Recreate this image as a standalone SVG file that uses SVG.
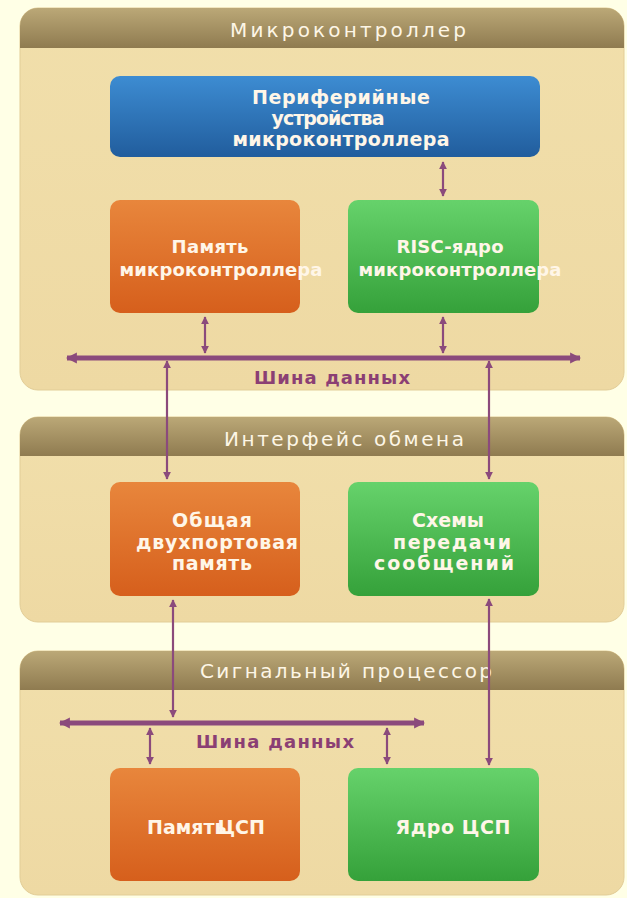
<svg xmlns="http://www.w3.org/2000/svg" width="627" height="898" viewBox="0 0 627 898">
<defs>
<linearGradient id="gHdr" x1="0" y1="0" x2="0" y2="1"><stop offset="0" stop-color="#bba877"/><stop offset="1" stop-color="#8f7b50"/></linearGradient>
<linearGradient id="gBody" x1="0" y1="0" x2="0" y2="1"><stop offset="0" stop-color="#f1dfab"/><stop offset="1" stop-color="#eed9a3"/></linearGradient>
<linearGradient id="gBlue" x1="0" y1="0" x2="0" y2="1"><stop offset="0" stop-color="#3d8cd2"/><stop offset="1" stop-color="#215d9d"/></linearGradient>
<linearGradient id="gOrange" x1="0" y1="0" x2="0" y2="1"><stop offset="0" stop-color="#e8863c"/><stop offset="1" stop-color="#d65f1c"/></linearGradient>
<linearGradient id="gGreen" x1="0" y1="0" x2="0" y2="1"><stop offset="0" stop-color="#66d26b"/><stop offset="1" stop-color="#35a13a"/></linearGradient>
<marker id="ah" viewBox="0 0 10 10" refX="9" refY="5" markerWidth="8" markerHeight="8" markerUnits="userSpaceOnUse" orient="auto-start-reverse"><path d="M0,0 L10,5 L0,10 Z" fill="#8b4a7c"/></marker>
<marker id="bh" viewBox="0 0 10 10" refX="9" refY="5" markerWidth="11" markerHeight="12" markerUnits="userSpaceOnUse" orient="auto-start-reverse"><path d="M0,0 L10,5 L0,10 Z" fill="#8b4a7c"/></marker>
<style>
.body{fill:url(#gBody);stroke:#e2cd97;stroke-width:1}
.hdr{fill:url(#gHdr)}
.htxt{font-family:"DejaVu Sans",sans-serif;font-size:20px;fill:#fdf6e6;text-anchor:middle}
.btxt{font-family:"DejaVu Sans",sans-serif;font-weight:bold;font-size:19px;fill:#fff6e8;text-anchor:middle}
.s{font-size:18px}
.bus{font-family:"DejaVu Sans",sans-serif;font-weight:bold;font-size:18px;fill:#8b3f74;text-anchor:middle}
.blue{fill:url(#gBlue)}
.orange{fill:url(#gOrange)}
.green{fill:url(#gGreen)}
.ln{stroke:#8b4a7c;stroke-width:2.2;fill:none;marker-start:url(#ah);marker-end:url(#ah)}
.bl{stroke:#8b4a7c;stroke-width:5;fill:none;marker-start:url(#bh);marker-end:url(#bh)}
</style>
</defs>
<rect width="627" height="898" fill="#ffffe6"/>

<g id="mcu">
<rect class="body" x="20" y="8" width="604" height="382" rx="18"/>
<path class="hdr" d="M20,48 V26 A18,18 0 0 1 38,8 H606 A18,18 0 0 1 624,26 V48 Z"/>
<text class="htxt" x="348" y="37" textLength="236">Микроконтроллер</text>
</g>
<g id="iface">
<rect class="body" x="20" y="417" width="604" height="205" rx="18"/>
<path class="hdr" d="M20,456 V435 A18,18 0 0 1 38,417 H606 A18,18 0 0 1 624,435 V456 Z"/>
<text class="htxt" x="344" y="446" textLength="240">Интерфейс обмена</text>
</g>
<g id="dsp">
<rect class="body" x="20" y="651" width="604" height="244" rx="18"/>
<path class="hdr" d="M20,690 V669 A18,18 0 0 1 38,651 H606 A18,18 0 0 1 624,669 V690 Z"/>
<text class="htxt" x="346" y="678" textLength="292">Сигнальный процессор</text>
</g>

<g id="periph">
<rect class="blue" x="110" y="76" width="430" height="81" rx="10"/>
<text class="btxt" x="341" y="104" textLength="178">Периферийные</text>
<text class="btxt" x="328" y="125" textLength="113">устройства</text>
<text class="btxt" x="341" y="146" textLength="217">микроконтроллера</text>
</g>
<g id="mcu-mem">
<rect class="orange" x="110" y="200" width="190" height="113" rx="10"/>
<text class="btxt s" x="210" y="253" textLength="77">Память</text>
<text class="btxt s" x="221" y="276" textLength="203">микроконтроллера</text>
</g>
<g id="risc">
<rect class="green" x="348" y="200" width="191" height="113" rx="10"/>
<text class="btxt s" x="450" y="253" textLength="107">RISC-ядро</text>
<text class="btxt s" x="460" y="276" textLength="203">микроконтроллера</text>
</g>
<g id="dpram">
<rect class="orange" x="110" y="482" width="190" height="114" rx="10"/>
<text class="btxt" x="212" y="527" textLength="80">Общая</text>
<text class="btxt" x="217" y="549" textLength="162">двухпортовая</text>
<text class="btxt" x="212" y="570" textLength="80">память</text>
</g>
<g id="msg">
<rect class="green" x="348" y="482" width="191" height="114" rx="10"/>
<text class="btxt" x="448" y="527" textLength="72">Схемы</text>
<text class="btxt" x="452" y="549" textLength="118">передачи</text>
<text class="btxt" x="444" y="570" textLength="140">сообщений</text>
</g>
<g id="dsp-mem">
<rect class="orange" x="110" y="768" width="190" height="113" rx="10"/>
<text class="btxt" x="147" y="834" style="text-anchor:start">Память<tspan dx="-9">ЦСП</tspan></text>
</g>
<g id="dsp-core">
<rect class="green" x="348" y="768" width="191" height="113" rx="10"/>
<text class="btxt" x="453" y="834" textLength="115">Ядро ЦСП</text>
</g>

<g id="connectors">
<line class="ln" x1="443" y1="162" x2="443" y2="196"/>
<line class="ln" x1="205" y1="317" x2="205" y2="353"/>
<line class="ln" x1="443" y1="317" x2="443" y2="353"/>
<line class="bl" x1="67" y1="358" x2="580" y2="358"/>
<line class="ln" x1="167" y1="361" x2="167" y2="479"/>
<line class="ln" x1="489" y1="361" x2="489" y2="479"/>
<line class="ln" x1="173" y1="600" x2="173" y2="717"/>
<line class="ln" x1="489" y1="599" x2="489" y2="765"/>
<line class="bl" x1="60" y1="723" x2="424" y2="723"/>
<line class="ln" x1="150" y1="728" x2="150" y2="764"/>
<line class="ln" x1="387" y1="728" x2="387" y2="764"/>
<text class="bus" x="332" y="384" textLength="156">Шина данных</text>
<text class="bus" x="275" y="748" textLength="158">Шина данных</text>
</g>
</svg>
